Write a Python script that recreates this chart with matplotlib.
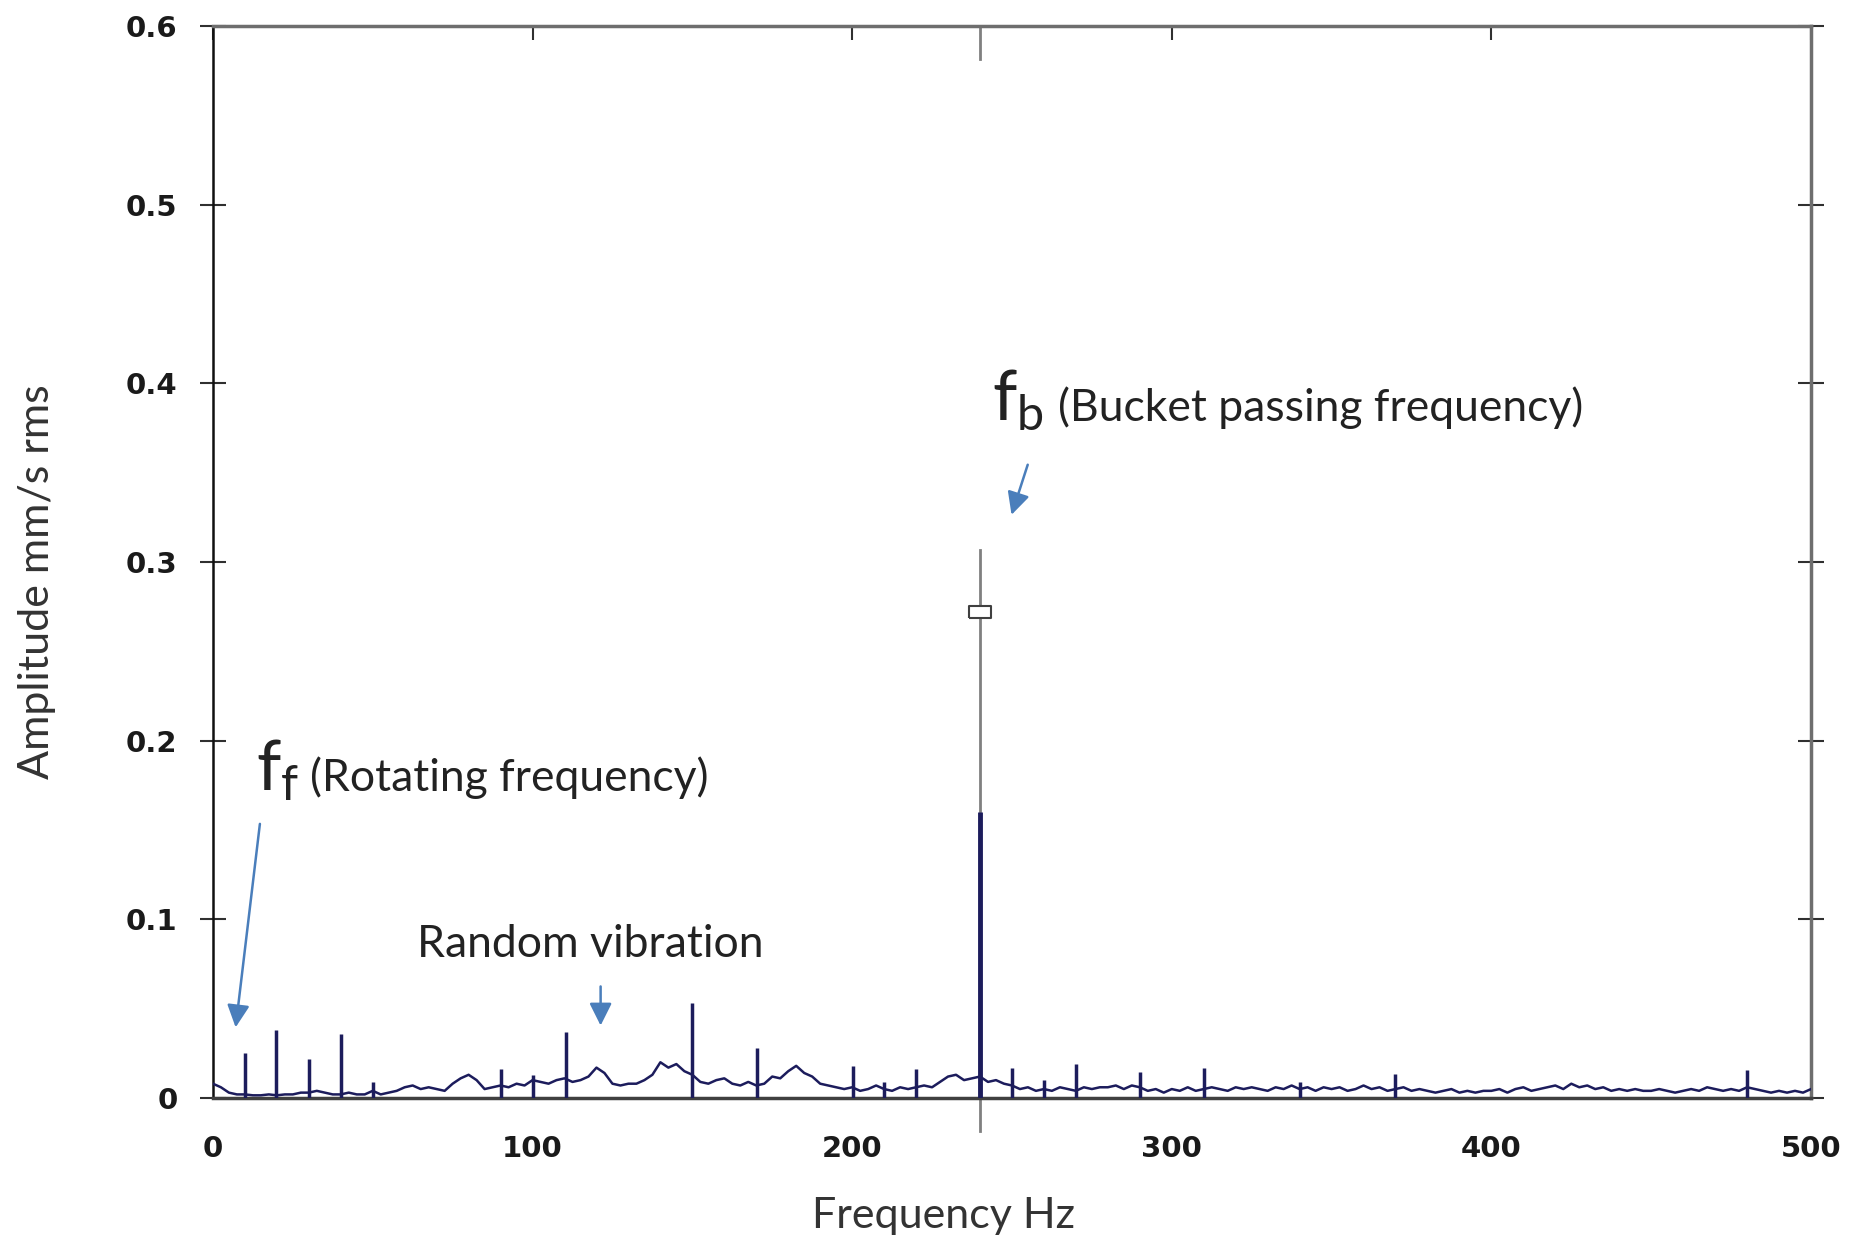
import numpy as np
import matplotlib
matplotlib.use('Agg')
import matplotlib.pyplot as plt
from matplotlib.path import Path

plt.rcParams['mathtext.fontset'] = 'custom'
plt.rcParams['mathtext.rm'] = 'Lato'
plt.rcParams['mathtext.it'] = 'Lato'

# spectrum noise floor, one value every 2.5 Hz from 0 to 500 Hz
freq = np.arange(0, 500.1, 2.5)
floor_amp = [
    0.008, 0.006, 0.003, 0.002, 0.002, 0.0015, 0.0015, 0.002, 0.0015, 0.002,
    0.002, 0.003, 0.003, 0.004, 0.003, 0.002, 0.002, 0.003, 0.002, 0.002,
    0.004, 0.002, 0.003, 0.004, 0.006, 0.007, 0.005, 0.006, 0.005, 0.004,
    0.008, 0.011, 0.013, 0.010, 0.005, 0.006, 0.007, 0.006, 0.008, 0.007,
    0.010, 0.009, 0.008, 0.010, 0.011, 0.009, 0.010, 0.012, 0.017, 0.014,
    0.008, 0.007, 0.008, 0.008, 0.010, 0.013, 0.020, 0.017, 0.019, 0.015,
    0.013, 0.009, 0.008, 0.010, 0.011, 0.008, 0.007, 0.009, 0.007, 0.008,
    0.012, 0.011, 0.015, 0.018, 0.014, 0.012, 0.008, 0.007, 0.006, 0.005,
    0.006, 0.004, 0.005, 0.007, 0.005, 0.004, 0.006, 0.005, 0.006, 0.007,
    0.006, 0.009, 0.012, 0.013, 0.010, 0.011, 0.012, 0.009, 0.010, 0.008,
    0.007, 0.005, 0.006, 0.004, 0.005, 0.004, 0.006, 0.005, 0.004, 0.006,
    0.005, 0.006, 0.006, 0.007, 0.005, 0.007, 0.006, 0.004, 0.005, 0.003,
    0.005, 0.004, 0.006, 0.004, 0.005, 0.006, 0.005, 0.004, 0.006, 0.005,
    0.006, 0.005, 0.004, 0.006, 0.005, 0.007, 0.005, 0.006, 0.004, 0.006,
    0.005, 0.006, 0.004, 0.005, 0.007, 0.005, 0.006, 0.004, 0.005, 0.006,
    0.004, 0.005, 0.004, 0.003, 0.004, 0.005, 0.003, 0.004, 0.003, 0.004,
    0.004, 0.005, 0.003, 0.005, 0.006, 0.004, 0.005, 0.006, 0.007, 0.005,
    0.008, 0.006, 0.007, 0.005, 0.006, 0.004, 0.005, 0.004, 0.005, 0.004,
    0.004, 0.005, 0.004, 0.003, 0.004, 0.005, 0.004, 0.006, 0.005, 0.004,
    0.005, 0.004, 0.006, 0.005, 0.004, 0.003, 0.004, 0.003, 0.004, 0.003,
    0.005,
]

# narrow spectral lines
peak_freq = [10, 19.6, 30, 40, 50, 90, 100, 110.4, 149.8, 170.3, 200.3,
             210, 220, 250, 260, 270, 290, 310, 340, 370, 480]
peak_amp = [0.025, 0.038, 0.022, 0.036, 0.009, 0.016, 0.013, 0.037, 0.053,
            0.028, 0.018, 0.009, 0.016, 0.017, 0.010, 0.019, 0.0145, 0.017,
            0.009, 0.0134, 0.0157]

# bucket passing line and cursor
fb_freq = 240
fb_amp = 0.160
cursor_top = 0.307
cursor_box = 0.272

navy = '#1c1c5c'
blue = '#4a7ebb'

fig = plt.figure(figsize=(18.58, 12.48), dpi=100)
ax = fig.add_axes([0.1146, 0.1202, 0.8601, 0.8588])

# cursor
ax.plot([fb_freq, fb_freq], [-0.0185, cursor_top], color='#808080', lw=2, clip_on=False, zorder=2)
ax.plot([fb_freq, fb_freq], [0.6, 0.5818], color='#808080', lw=2, clip_on=False, zorder=2)

ax.plot(freq, floor_amp, color=navy, lw=1.8, zorder=3)
ax.vlines(peak_freq, 0, peak_amp, color=navy, lw=2.5, zorder=3)
ax.vlines([fb_freq], 0, [fb_amp], color=navy, lw=3.5, zorder=4)

box = Path([(-1, -0.55), (1, -0.55), (1, 0.55), (-1, 0.55), (-1, -0.55)])
ax.plot([fb_freq], [cursor_box], marker=box, markersize=16, markerfacecolor='white',
        markeredgecolor='#404040', markeredgewidth=1.5, zorder=5)

ax.set_xlim(0, 500)
ax.set_ylim(0, 0.6)
ax.set_xticks([0, 100, 200, 300, 400, 500])
ax.set_yticks([0, 0.1, 0.2, 0.3, 0.4, 0.5, 0.6])
ax.set_yticklabels(['0', '0.1', '0.2', '0.3', '0.4', '0.5', '0.6'])

ax.tick_params(axis='y', which='both', direction='inout', length=19, width=1.5,
               left=True, right=True, pad=16, color='#303030')
ax.tick_params(axis='x', which='both', direction='in', length=10, width=1.5,
               bottom=False, top=True, pad=27, color='#303030')
for lab in ax.get_xticklabels() + ax.get_yticklabels():
    lab.set_fontfamily('DejaVu Sans')
    lab.set_fontweight('bold')
    lab.set_fontsize(21)
    lab.set_color('#1a1a1a')

ax.spines['left'].set_color('#101010')
ax.spines['left'].set_linewidth(1.8)
ax.spines['bottom'].set_color('#404040')
ax.spines['bottom'].set_linewidth(2.5)
ax.spines['top'].set_color('#6e6e6e')
ax.spines['top'].set_linewidth(2.5)
ax.spines['right'].set_color('#6e6e6e')
ax.spines['right'].set_linewidth(2.5)

ax.set_xlabel('Frequency Hz', fontsize=31, family='Lato', color='#333333')
ax.set_ylabel('Amplitude mm/s rms', fontsize=31, family='Lato', color='#333333')
ax.xaxis.set_label_coords(0.457, -0.092)
ax.yaxis.set_label_coords(-0.098, 0.482)

# annotations
txt = dict(fontsize=32, family='Lato', color='#222222', va='baseline')
ax.text(13.6, 0.172, r'$\mathrm{f_f}$', fontsize=50, color='#222222', va='baseline')
ax.text(30.4, 0.172, '(Rotating frequency)', **txt)
ax.annotate('', xy=(7.0, 0.038), xytext=(14.8, 0.155),
            arrowprops=dict(arrowstyle='-|>', color=blue, lw=1.8, mutation_scale=34))

ax.text(63.8, 0.079, 'Random vibration', **txt)
ax.annotate('', xy=(121.3, 0.039), xytext=(121.3, 0.064),
            arrowprops=dict(arrowstyle='-|>', color=blue, lw=1.8, mutation_scale=34))

ax.text(243.6, 0.379, r'$\mathrm{f_b}$', fontsize=50, color='#222222', va='baseline')
ax.text(264.4, 0.379, '(Bucket passing frequency)', **txt)
ax.annotate('', xy=(249.6, 0.325), xytext=(255.2, 0.356),
            arrowprops=dict(arrowstyle='-|>', color=blue, lw=1.8, mutation_scale=34))

fig.savefig('out.png', dpi=100)
